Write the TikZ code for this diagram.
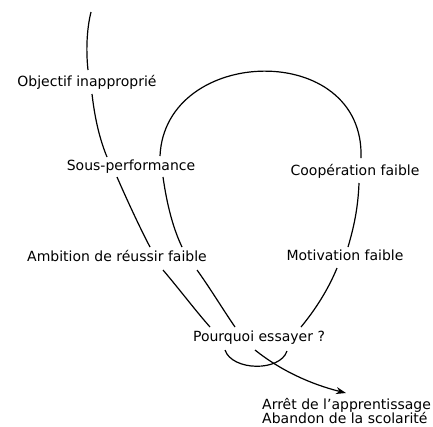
\documentclass[tikz,border=0pt]{standalone}
\usepackage{fontspec}
\setmainfont{DejaVu Sans}
\usetikzlibrary{arrows.meta}
\begin{document}
\begin{tikzpicture}[x=1bp,y=-1bp,
  lbl/.style={inner sep=0pt, text height=10bp, text depth=3bp, font=\fontsize{14bp}{14.5bp}\selectfont},
  endlbl/.style={inner sep=0pt, align=left, anchor=north west, font=\fontsize{14bp}{14.3bp}\selectfont},
  conn/.style={line width=1.2bp, black},
  arr/.style={conn, -{Stealth[length=10bp,width=7bp]}}]
\useasboundingbox (0,0) rectangle (433,426);
\node[lbl] (obj) at (87,83) {Objectif inappropri\'e};
\node[lbl] (sp) at (131,167) {Sous-performance};
\node[lbl] (coop) at (355,172) {Coop\'eration faible};
\node[lbl] (amb) at (117,258) {Ambition de r\'eussir faible};
\node[lbl] (mot) at (345,257) {Motivation faible};
\node[lbl] (pq) at (259,338) {Pourquoi essayer ?};
\node[endlbl] (end) at (262,398) {Arr\^et de l{\char"27}apprentissage\\Abandon de la scolarit\'e};
\coordinate (top) at (91,12);
% outer path
\draw[conn] (top) .. controls (86.5,30) and (86,52) .. ([shift={(1,-13)}]obj.center);
\draw[conn] ([shift={(5,11)}]obj.center) .. controls (95,120) and (100,140) .. ([shift={(-24,-10)}]sp.center);
\draw[conn] ([shift={(-14,10)}]sp.center) .. controls (127,200) and (140,228) .. ([shift={(33,-11)}]amb.center);
\draw[conn] ([shift={(46,12)}]amb.center) .. controls (180,290) and (195,310) .. ([shift={(-49,-11)}]pq.center);
\draw[arr] ([shift={(-4,12)}]pq.center) .. controls (280,370) and (310,384) .. ([shift={(84,-5)}]end.north west);
% loop
\draw[conn] ([shift={(29,-11)}]sp.center) .. controls (165,45) and (365,40) .. ([shift={(6,-14)}]coop.center);
\draw[conn] ([shift={(4,11)}]coop.center) .. controls (358,210) and (353,230) .. ([shift={(3,-10)}]mot.center);
\draw[conn] ([shift={(-8,11)}]mot.center) .. controls (328,290) and (315,310) .. ([shift={(42,-11)}]pq.center);
\draw[conn] ([shift={(-34,12)}]pq.center) .. controls (232,371) and (280,372) .. ([shift={(28,13)}]pq.center);
\draw[conn] ([shift={(80,12)}]amb.center) .. controls (210,288) and (222,308) .. ([shift={(-24,-11)}]pq.center);
\draw[conn] ([shift={(32,10)}]sp.center) .. controls (167,205) and (173,228) .. ([shift={(65,-11)}]amb.center);
\end{tikzpicture}
\end{document}
